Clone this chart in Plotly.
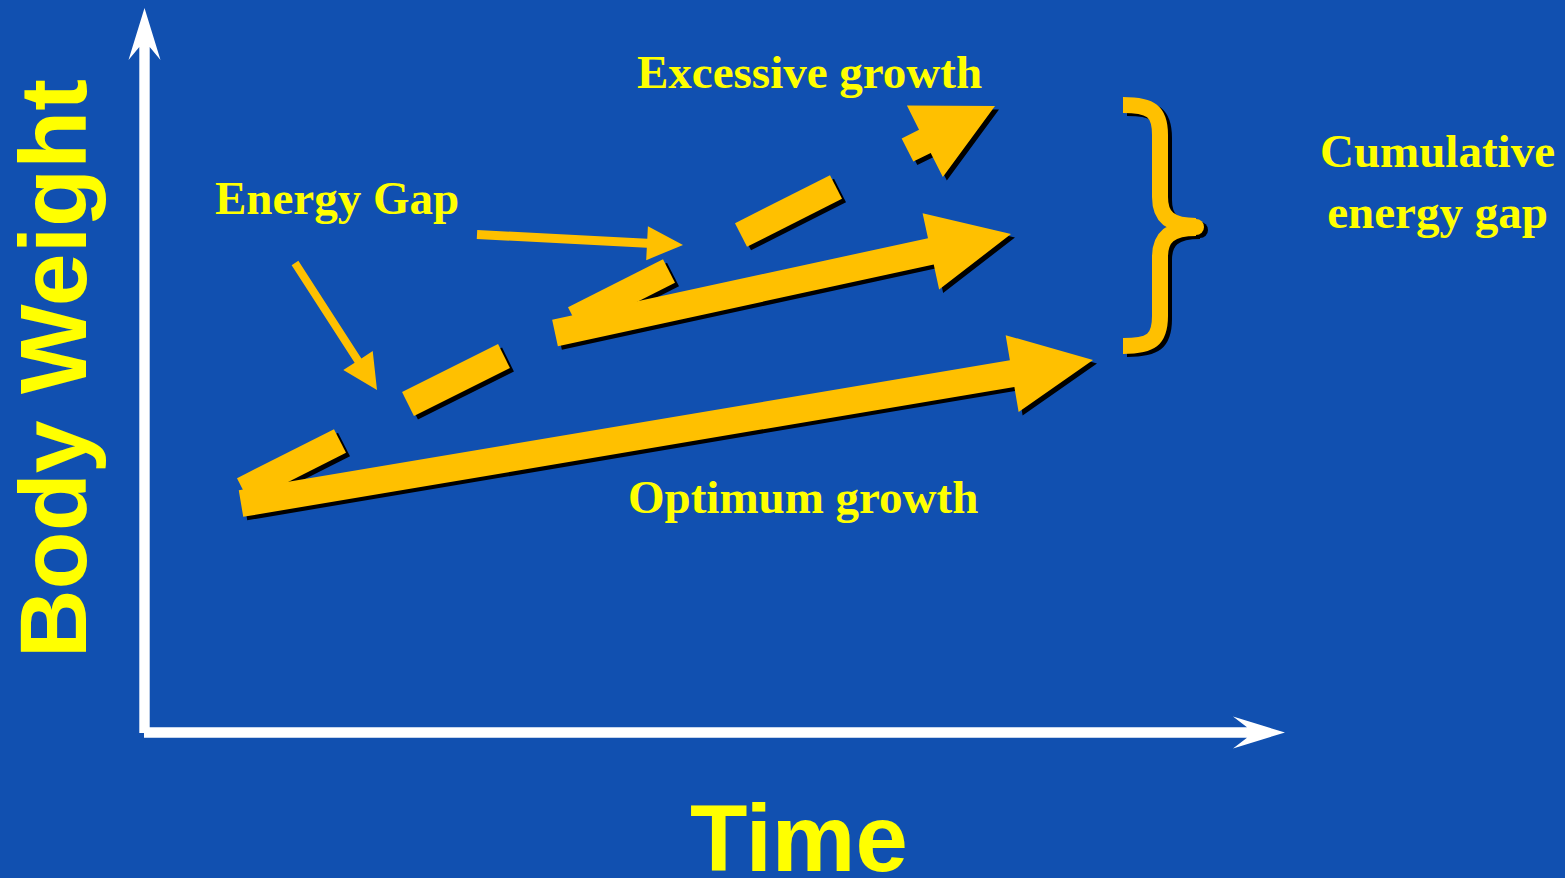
import numpy as np
import plotly.graph_objects as go

W, H = 1565, 878
BG = "#1150B0"
GOLD = "#FFC000"
TXT = "#FFFF00"
WHITE = "#FFFFFF"
SHADOW = "#000000"
SERIF = "Liberation Serif"
SANS = "Liberation Sans"

# ---- diagram data (pixel-space coordinates of the slide) ----
# white axes
axis_names = ["y", "x"]
axis_start_x = [144.5, 144]
axis_start_y = [733, 732.5]
axis_tip_x = [144.5, 1285]
axis_tip_y = [8, 732.5]
axis_half = [5.2, 5.2]
axis_head_len = [52, 52]
axis_head_half = [16, 16]
axis_notch = [13, 14]

# thick gold arrows: optimum growth, intermediate growth, excessive growth head
thick_names = ["optimum", "intermediate", "excessive_head"]
thick_x0 = [241, 555, 907.5]
thick_y0 = [503.5, 333, 150]
thick_x1 = [1093, 1011, 995]
thick_y1 = [360, 234, 106]
thick_half = [13.5, 13.5, 13]
thick_head_len = [82, 82, 78.5]
thick_head_half = [39, 39, 40]

# dashes of the excessive growth line
dash_x0 = [243, 408, 574, 741]
dash_y0 = [490, 404, 319, 235]
dash_x1 = [340, 504, 669, 836]
dash_y1 = [441, 356, 271, 187]
dash_half = 13.3

# thin "Energy Gap" pointer arrows
thin_x0 = [295, 477]
thin_y0 = [263, 234.5]
thin_x1 = [377, 683]
thin_y1 = [390, 245]
thin_half = [4, 4.5]
thin_head_len = [35, 36]
thin_head_half = [17.5, 17]

# brace: left end x, stem x, tip x ; top y, middle y, bottom y
brace_x = [1123, 1160, 1196]
brace_y = [105, 227, 346]
brace_width = 16

# labels
label_text = ["Excessive growth", "Energy Gap", "Optimum growth", "Cumulative<br>energy gap"]
label_x = [809.5, 336.5, 803, 1437.5]
label_y = [72, 198, 497, 181]

SHADOW_DX, SHADOW_DY = 4, 3.5


def arrow_poly(x0, y0, x1, y1, sh, hl, hh, notch=0.0):
    a = np.array([x0, y0], float)
    b = np.array([x1, y1], float)
    d = (b - a) / np.linalg.norm(b - a)
    p = np.array([-d[1], d[0]])
    base = b - d * hl
    neck = base + d * notch
    pts = [a + p * sh, neck + p * sh, base + p * hh, b, base - p * hh, neck - p * sh, a - p * sh, a + p * sh]
    pts = np.array(pts)
    return pts[:, 0], pts[:, 1]


def rect_poly(x0, y0, x1, y1, h):
    a = np.array([x0, y0], float)
    b = np.array([x1, y1], float)
    d = (b - a) / np.linalg.norm(b - a)
    p = np.array([-d[1], d[0]])
    pts = np.array([a + p * h, b + p * h, b - p * h, a - p * h, a + p * h])
    return pts[:, 0], pts[:, 1]


fig = go.Figure()


def add_poly(xs, ys, color):
    fig.add_trace(go.Scatter(x=xs, y=ys, mode="lines", fill="toself", fillcolor=color,
                             line=dict(width=0, color=color), hoverinfo="skip", showlegend=False))


# axes
for i in range(2):
    xs, ys = arrow_poly(axis_start_x[i], axis_start_y[i], axis_tip_x[i], axis_tip_y[i],
                        axis_half[i], axis_head_len[i], axis_head_half[i], axis_notch[i])
    add_poly(xs, ys, WHITE)

# gold shapes with shadows
gold_polys = []
for i in range(len(thick_x0)):
    gold_polys.append(arrow_poly(thick_x0[i], thick_y0[i], thick_x1[i], thick_y1[i],
                                 thick_half[i], thick_head_len[i], thick_head_half[i]))
for i in range(len(dash_x0)):
    gold_polys.append(rect_poly(dash_x0[i], dash_y0[i], dash_x1[i], dash_y1[i], dash_half))

for xs, ys in gold_polys:
    add_poly(xs + SHADOW_DX, ys + SHADOW_DY, SHADOW)
for xs, ys in gold_polys:
    add_poly(xs, ys, GOLD)

for i in range(len(thin_x0)):
    xs, ys = arrow_poly(thin_x0[i], thin_y0[i], thin_x1[i], thin_y1[i],
                        thin_half[i], thin_head_len[i], thin_head_half[i])
    add_poly(xs, ys, GOLD)


def brace_shapes(color, dx=0.0, dy=0.0):
    x0, xm, xt = brace_x[0] + dx, brace_x[1] + dx, brace_x[2] + dx
    y0, ym, y1 = brace_y[0] + dy, brace_y[1] + dy, brace_y[2] + dy
    path = (f"M {x0},{y0} C {x0+28},{y0} {xm},{y0+6} {xm},{y0+30} "
            f"L {xm},{ym-30} C {xm},{ym-10} {xm+10},{ym-1} {xt},{ym-1} "
            f"M {xt},{ym+1} C {xm+10},{ym+1} {xm},{ym+10} {xm},{ym+30} "
            f"L {xm},{y1-30} C {xm},{y1-6} {x0+28},{y1} {x0},{y1}")
    r = brace_width / 2
    return [
        dict(type="path", xref="x", yref="y", path=path, line=dict(color=color, width=brace_width)),
        dict(type="circle", xref="x", yref="y", x0=xt - r, x1=xt + r, y0=ym - r, y1=ym + r,
             fillcolor=color, line=dict(width=0)),
    ]


shapes = brace_shapes(SHADOW, 4, 3) + brace_shapes(GOLD)

annotations = []
for t, x, y in zip(label_text, label_x, label_y):
    annotations.append(dict(text=f"<b>{t}</b>", x=x, y=y, xref="x", yref="y", showarrow=False,
                            xanchor="center", yanchor="middle",
                            font=dict(family=SERIF, size=47, color=TXT)))
annotations.append(dict(text="<b>Body Weight</b>", x=53, y=369, xref="x", yref="y", showarrow=False,
                        textangle=-90, xanchor="center", yanchor="middle",
                        font=dict(family=SANS, size=95, color=TXT)))
annotations.append(dict(text="<b>Time</b>", x=798.5, y=838, xref="x", yref="y", showarrow=False,
                        xanchor="center", yanchor="middle",
                        font=dict(family=SANS, size=94, color=TXT)))

fig.update_layout(
    width=W, height=H, margin=dict(l=0, r=0, t=0, b=0),
    paper_bgcolor=BG, plot_bgcolor=BG,
    xaxis=dict(range=[0, W], visible=False, fixedrange=True),
    yaxis=dict(range=[H, 0], visible=False, fixedrange=True),
    shapes=shapes, annotations=annotations, showlegend=False,
)
fig.write_html("out.html")
